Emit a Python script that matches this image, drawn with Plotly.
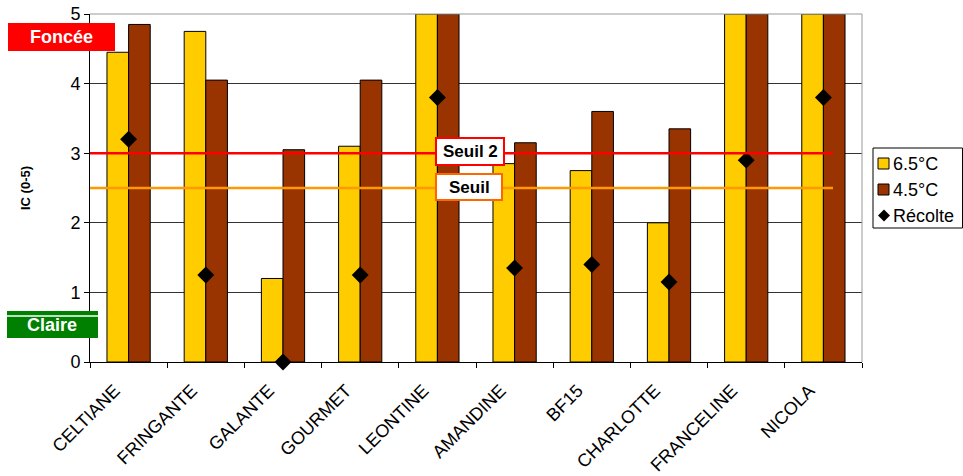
import plotly.graph_objects as go

categories = ["CELTIANE", "FRINGANTE", "GALANTE", "GOURMET", "LEONTINE",
              "AMANDINE", "BF15", "CHARLOTTE", "FRANCELINE", "NICOLA"]
ic_65 = [4.45, 4.75, 1.2, 3.1, 5.0, 2.85, 2.75, 2.0, 5.0, 5.0]
ic_45 = [4.85, 4.05, 3.05, 4.05, 5.0, 3.15, 3.6, 3.35, 5.0, 5.0]
recolte = [3.2, 1.25, 0.0, 1.25, 3.8, 1.35, 1.4, 1.15, 2.9, 3.8]
series_names = ["6.5°C", "4.5°C", "Récolte"]
seuil2 = 3.0
seuil = 2.5
y_ticks = [0, 1, 2, 3, 4, 5]

FONT = "Arial, Liberation Sans, sans-serif"
W, H = 963, 476
L, R, T, B = 90, 862, 14, 362
YEL, BRN = "#FFCC00", "#993300"


def px(x):
    return (x - L) / (R - L)


def py(y):
    return (B - y) / (B - T)


def label(x, y, text, size, color, xanchor="center"):
    fig.add_annotation(xref="paper", yref="paper", x=px(x), y=py(y), text=text,
                       xanchor=xanchor, yanchor="middle", showarrow=False,
                       font=dict(family=FONT, size=size, color=color))


fig = go.Figure()
fig.add_trace(go.Bar(x=categories, y=ic_65, name=series_names[0], showlegend=False,
                     marker=dict(color=YEL, line=dict(color="black", width=1))))
fig.add_trace(go.Bar(x=categories, y=ic_45, name=series_names[1], showlegend=False,
                     marker=dict(color=BRN, line=dict(color="black", width=1))))
fig.add_trace(go.Scatter(x=categories, y=recolte, name=series_names[2], mode="markers",
                         showlegend=False,
                         marker=dict(symbol="diamond", color="black", size=13),
                         cliponaxis=False))

# threshold lines
fig.add_shape(type="line", xref="paper", yref="y", x0=0, x1=px(833), y0=seuil2, y1=seuil2,
              line=dict(color="#FF0000", width=2.5))
fig.add_shape(type="line", xref="paper", yref="y", x0=0, x1=px(833), y0=seuil, y1=seuil,
              line=dict(color="#FF9900", width=2.5))
# right and top border (gray)
fig.add_shape(type="line", xref="paper", yref="paper", x0=1, x1=1, y0=0, y1=1,
              line=dict(color="#999999", width=1))
fig.add_shape(type="line", xref="paper", yref="paper", x0=0, x1=1, y0=1, y1=1,
              line=dict(color="#999999", width=1))

# Seuil label boxes
fig.add_shape(type="rect", xref="paper", yref="paper", x0=px(436), x1=px(504),
              y0=py(165), y1=py(138), fillcolor="white",
              line=dict(color="#FF0000", width=2), layer="above")
label(470, 151.5, "<b>Seuil 2</b>", 17, "black")
fig.add_shape(type="rect", xref="paper", yref="paper", x0=px(436), x1=px(502),
              y0=py(200), y1=py(174), fillcolor="white",
              line=dict(color="#FF6600", width=2), layer="above")
label(469, 187, "<b>Seuil</b>", 17, "black")

# Foncée / Claire labels
fig.add_shape(type="rect", xref="paper", yref="paper", x0=px(8), x1=px(115),
              y0=py(51), y1=py(23), fillcolor="#FF0000", line=dict(width=0), layer="above")
label(61, 37, "<b>Foncée</b>", 18, "white")
fig.add_shape(type="rect", xref="paper", yref="paper", x0=px(7), x1=px(98),
              y0=py(338), y1=py(311), fillcolor="#008000", line=dict(width=0), layer="above")
fig.add_shape(type="line", xref="paper", yref="paper", x0=px(7), x1=px(98),
              y0=py(316), y1=py(316), line=dict(color="white", width=1.5), layer="above")
label(52, 325, "<b>Claire</b>", 18, "white")

# custom legend
fig.add_shape(type="rect", xref="paper", yref="paper", x0=px(873), x1=px(962.5),
              y0=py(228), y1=py(148), fillcolor="white",
              line=dict(color="black", width=1), layer="above")
leg_y = [163.5, 189.5, 215.5]
for i, (name, yy) in enumerate(zip(series_names, leg_y)):
    if i < 2:
        fig.add_shape(type="rect", xref="paper", yref="paper", x0=px(878), x1=px(889),
                      y0=py(yy + 5.5), y1=py(yy - 5.5), fillcolor=[YEL, BRN][i],
                      line=dict(color="black", width=1), layer="above")
    else:
        cx = 884
        fig.add_shape(type="path", xref="paper", yref="paper", layer="above",
                      path=f"M {px(cx - 6)} {py(yy)} L {px(cx)} {py(yy - 6)} "
                           f"L {px(cx + 6)} {py(yy)} L {px(cx)} {py(yy + 6)} Z",
                      fillcolor="black", line=dict(color="black", width=0))
    label(891, yy, name, 18, "black", xanchor="left")

fig.update_layout(
    width=W, height=H,
    margin=dict(l=L, r=W - R, t=T, b=H - B, autoexpand=False),
    paper_bgcolor="white", plot_bgcolor="white",
    barmode="group", bargap=0.44, bargroupgap=0,
    font=dict(family=FONT, size=17, color="black"),
    showlegend=False,
)
fig.update_xaxes(range=[-0.5, 9.5], tickangle=-45, tickson="boundaries",
                 ticks="outside", ticklen=5, tickcolor="black",
                 showline=True, linecolor="black", linewidth=1, automargin=False,
                 ticklabelstandoff=10, ticklabelshift=-14,
                 tickfont=dict(family=FONT, size=18), showgrid=False)
fig.update_yaxes(range=[0, 5], tickvals=y_ticks, ticks="outside", ticklen=5,
                 tickcolor="black", showline=True, linecolor="black", linewidth=1,
                 showgrid=True, gridcolor="#333333", gridwidth=1, automargin=False,
                 tickfont=dict(family=FONT, size=18),
                 title=dict(text="<b>IC (0-5)</b>", font=dict(family=FONT, size=13), standoff=36),
                 zeroline=False)

fig.write_html("out.html", config={"displayModeBar": False},
               post_script="document.body.style.margin='0px';"
                           "document.body.style.overflow='hidden';")
